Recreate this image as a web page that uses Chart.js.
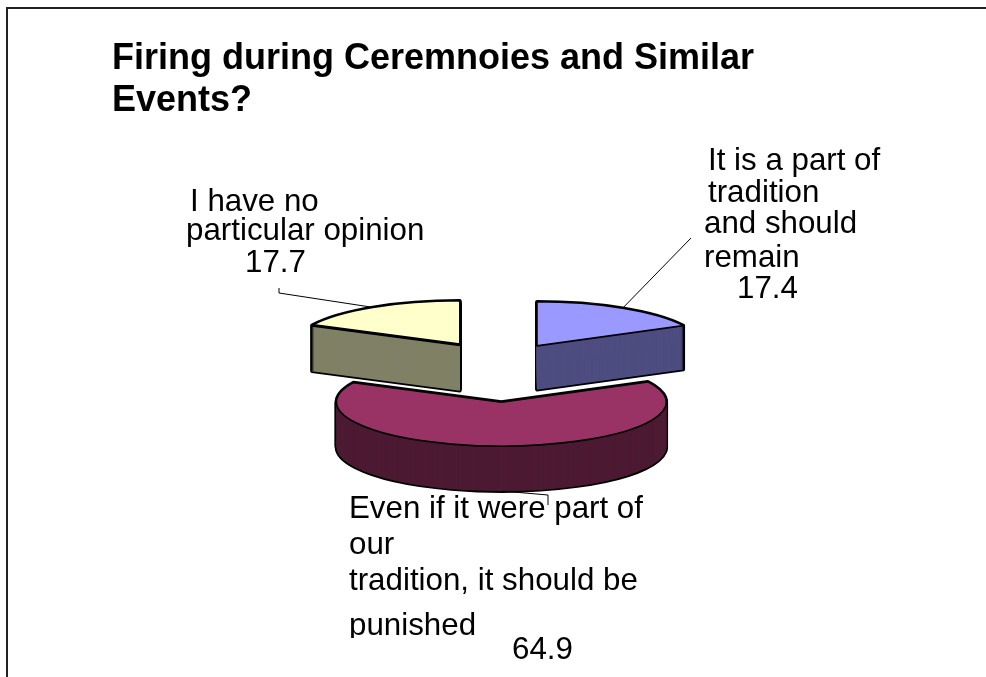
<!DOCTYPE html>
<html>
<head>
<meta charset="utf-8">
<style>
  html, body { margin: 0; padding: 0; background: #fff; overflow: hidden; }
  canvas { display: block; }
</style>
<script src="https://cdn.jsdelivr.net/npm/chart.js@4"></script>
</head>
<body>
<canvas id="pie" width="986" height="677"></canvas>
<script>
// data
const titleLines = ["Firing during Ceremnoies and Similar", "Events?"];
const categories = ["It is a part of tradition and should remain",
                    "Even if it were part of our tradition, it should be punished",
                    "I have no particular opinion"];
const values = [17.4, 64.9, 17.7];

const topColors = ["#9999FF", "#993366", "#FFFFCC"];
const wallColors = ["#4D4D80", "#4D1A33", "#808066"];

// how the 3d look is set up
const squash = 0.267;
const pieCenter = { x: 500, y: 362 };
const pieRadius = 165;
const explode = [71, 150, 76];
const depths = [44, 45, 46];
const outline = 1.7;

// label lines, one text per row: [text, x, baseline]
const labelRows = [
    [["It is a part of", 708, 170], ["tradition", 708, 202], ["and should", 704, 233], ["remain", 704, 267], [values[0].toFixed(1), 737, 298]],
    [["Even if it were part of", 349, 518], ["our", 349, 554], ["tradition, it should be", 349, 590], ["punished", 349, 635], [values[1].toFixed(1), 512, 659]],
    [["I have no", 190, 211], ["particular opinion", 186, 240], [values[2].toFixed(1), 245, 272]]
];
// leader line end points, after the rim point of each slice
const leaders = [
    { bend: [[691, 238]], onWall: false },
    { bend: [[548, 495], [548, 505]], onWall: true },
    { bend: [[279, 293], [279, 288]], onWall: false }
];

// the slice is pushed out along its middle angle, in the flat pie plane
function arcGeom(arc, i) {
    let p = arc.getProps(["startAngle", "endAngle"], true);
    let mid = (p.startAngle + p.endAngle) / 2;
    return {
        dx: Math.cos(mid) * explode[i],
        dy: Math.sin(mid) * explode[i],
        r: arc.outerRadius,
        start: p.startAngle,
        end: p.endAngle,
        mid: mid
    };
}

function toPie(ctx, arc, g, drop) {
    ctx.translate(pieCenter.x, pieCenter.y + drop);
    ctx.scale(1, squash);
    ctx.translate(g.dx - arc.x, g.dy - arc.y);
}

function slicePath(ctx, arc, g) {
    ctx.beginPath();
    ctx.moveTo(arc.x, arc.y);
    ctx.arc(arc.x, arc.y, g.r, g.start, g.end);
    ctx.closePath();
}

const pie3d = {
    id: "pie3d",
    beforeDraw(chart) {
        let ctx = chart.ctx;
        ctx.save();
        ctx.strokeStyle = "#222";
        ctx.lineWidth = 2;
        ctx.beginPath();
        ctx.moveTo(7, 677);
        ctx.lineTo(7, 8);
        ctx.lineTo(986, 8);
        ctx.stroke();
        ctx.restore();
    },
    beforeDatasetsDraw(chart) {
        let ctx = chart.ctx;
        let arcs = chart.getDatasetMeta(0).data;
        let base = ctx.getTransform();
        arcs.forEach(function(arc, i) {
            let g = arcGeom(arc, i);
            let top = arc.options;

            // black silhouette of the whole block first
            for (let d = 0; d <= depths[i]; d++) {
                ctx.save();
                toPie(ctx, arc, g, d);
                slicePath(ctx, arc, g);
                ctx.setTransform(base);
                ctx.lineWidth = outline * 2;
                ctx.lineJoin = "round";
                ctx.strokeStyle = "#000";
                ctx.stroke();
                ctx.restore();
            }
            // then the side wall
            arc.options = Object.assign({}, top, { backgroundColor: wallColors[i] });
            for (let d = depths[i]; d > 0; d--) {
                ctx.save();
                toPie(ctx, arc, g, d);
                arc.draw(ctx);
                ctx.restore();
            }
            // top face
            arc.options = top;
            ctx.save();
            toPie(ctx, arc, g, 0);
            arc.draw(ctx);
            slicePath(ctx, arc, g);
            ctx.setTransform(base);
            ctx.lineWidth = outline;
            ctx.lineJoin = "round";
            ctx.strokeStyle = "#000";
            ctx.stroke();
            ctx.restore();

            // front edge of the left slice is heavier in the source
            if (i === 2) {
                ctx.save();
                toPie(ctx, arc, g, 0);
                ctx.beginPath();
                ctx.moveTo(arc.x, arc.y);
                ctx.lineTo(arc.x + Math.cos(g.start) * g.r, arc.y + Math.sin(g.start) * g.r);
                ctx.setTransform(base);
                ctx.lineWidth = 3;
                ctx.strokeStyle = "#000";
                ctx.stroke();
                ctx.restore();
            }
        });
        return false;
    },
    afterDraw(chart) {
        let ctx = chart.ctx;
        let arcs = chart.getDatasetMeta(0).data;
        ctx.save();
        // leaders
        ctx.strokeStyle = "#000";
        ctx.lineWidth = 1;
        arcs.forEach(function(arc, i) {
            let g = arcGeom(arc, i);
            let sx = pieCenter.x + g.dx + Math.cos(g.mid) * g.r;
            let sy = pieCenter.y + (g.dy + Math.sin(g.mid) * g.r) * squash;
            if (leaders[i].onWall) sy += depths[i];
            ctx.beginPath();
            ctx.moveTo(sx, sy);
            leaders[i].bend.forEach(function(b) { ctx.lineTo(b[0], b[1]); });
            ctx.stroke();
        });
        // labels
        ctx.fillStyle = "#000";
        ctx.font = "31.3px 'Liberation Sans'";
        ctx.textBaseline = "alphabetic";
        labelRows.forEach(function(rows) {
            rows.forEach(function(r) {
                ctx.save();
                if (r[0] === "punished") {
                    // the descender is cut off in the source picture
                    ctx.beginPath();
                    ctx.rect(r[1] - 5, r[2] - 40, 200, 43);
                    ctx.clip();
                }
                ctx.fillText(r[0], r[1], r[2]);
                ctx.restore();
            });
        });
        ctx.restore();
    }
};

new Chart(document.getElementById("pie"), {
    type: "pie",
    data: {
        labels: categories,
        datasets: [{
            data: values,
            backgroundColor: topColors,
            borderWidth: 0
        }]
    },
    options: {
        responsive: false,
        animation: false,
        radius: pieRadius,
        layout: { padding: { left: 112 } },
        plugins: {
            legend: { display: false },
            tooltip: { enabled: false },
            title: {
                display: true,
                align: "start",
                text: titleLines,
                color: "#000",
                font: { family: "'Liberation Sans'", size: 36, weight: "bold", lineHeight: 1.167 },
                padding: { top: 38, bottom: 0 }
            }
        }
    },
    plugins: [pie3d]
});
</script>
</body>
</html>
